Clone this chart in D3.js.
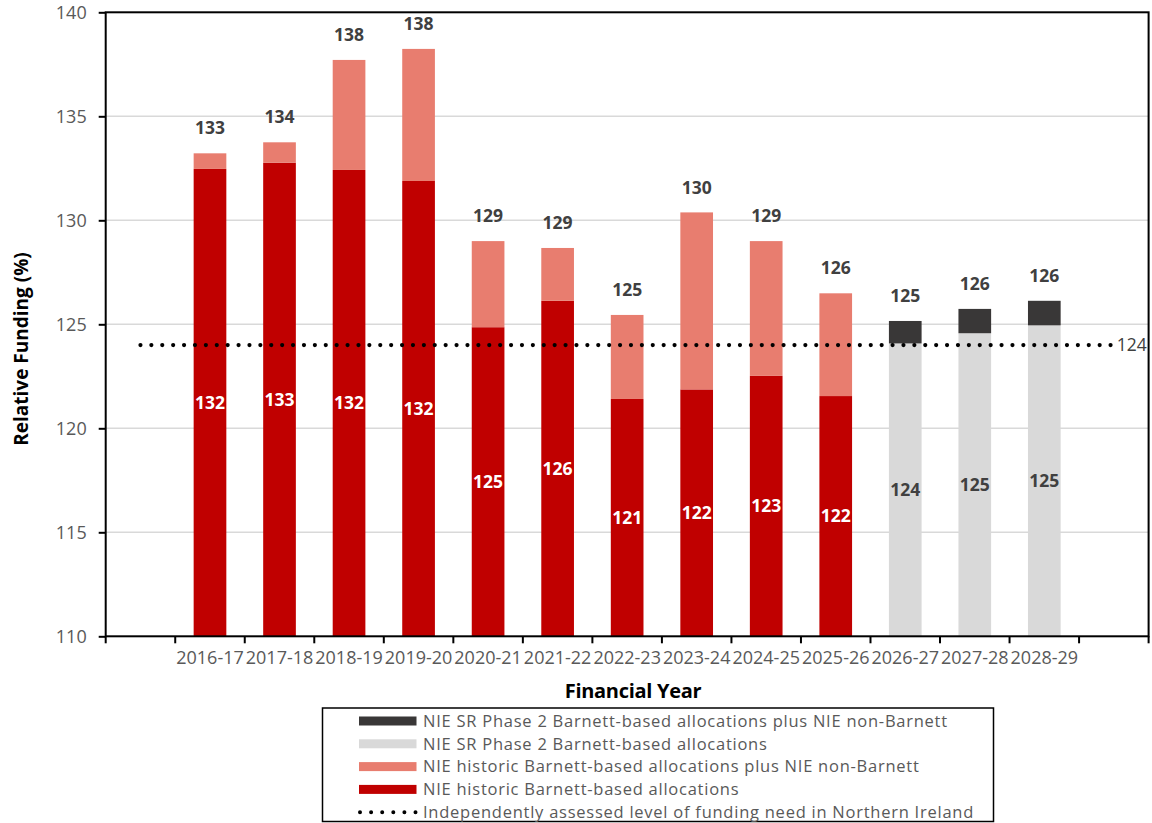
<!DOCTYPE html>
<html>
<head>
<meta charset="utf-8">
<script src="https://cdn.jsdelivr.net/npm/d3@7"></script>
<style>
  html, body { margin: 0; padding: 0; background: #fff; }
  svg { display: block; font-family: "Open Sans", "Liberation Sans", Arial, sans-serif; }
</style>
</head>
<body>
<svg id="chart" width="1152" height="823"></svg>
<script>
// Financial years shown on the x axis
const years = ["2016-17", "2017-18", "2018-19", "2019-20", "2020-21", "2021-22", "2022-23",
               "2023-24", "2024-25", "2025-26", "2026-27", "2027-28", "2028-29"];

// Historic Barnett-based allocations (null where not applicable)
const historicBarnett = [132.47, 132.77, 132.42, 131.89, 124.86, 126.13, 121.41,
                         121.87, 122.52, 121.55, null, null, null];
// Historic Barnett-based plus non-Barnett (total height)
const historicTotal = [133.22, 133.75, 137.71, 138.24, 129.0, 128.67, 125.45,
                       130.38, 129.0, 126.49, null, null, null];
// SR Phase 2 Barnett-based allocations
const srBarnett = [null, null, null, null, null, null, null, null, null, null, 124.08, 124.57, 124.95];
// SR Phase 2 Barnett-based plus non-Barnett (total height)
const srTotal = [null, null, null, null, null, null, null, null, null, null, 125.16, 125.74, 126.13];

// Independently assessed level of funding need
const fundingNeed = 124;

const yTicks = [110, 115, 120, 125, 130, 135, 140];

const legendLabels = [
  "NIE SR Phase 2 Barnett-based allocations plus NIE non-Barnett",
  "NIE SR Phase 2 Barnett-based allocations",
  "NIE historic Barnett-based allocations plus NIE non-Barnett",
  "NIE historic Barnett-based allocations",
  "Independently assessed level of funding need in Northern Ireland"
];

const colors = {
  srTop: "#393737",
  srBase: "#D9D9D9",
  histTop: "#E87D6F",
  histBase: "#C00000"
};

const svg = d3.select("#chart");
const plotLeft = 105.7, plotRight = 1148.6, plotTop = 12.3, plotBottom = 636.3;

// One empty slot either side of the years
const slots = ["__start", ...years, "__end"];
const x = d3.scaleBand().domain(slots).range([plotLeft, plotRight]).padding(0);
const step = x.step();
const barW = step * 0.47;
const cx = d => x(d) + step / 2;

const y = d3.scaleLinear().domain([110, 140]).range([plotBottom, plotTop]);

// Gridlines
svg.append("g")
  .selectAll("line")
  .data(yTicks.filter(t => t > 110 && t < 140))
  .join("line")
  .attr("x1", plotLeft).attr("x2", plotRight)
  .attr("y1", d => y(d)).attr("y2", d => y(d))
  .attr("stroke", "#D9D9D9").attr("stroke-width", 1.5);

// Stacked segments for each year
const segs = [];
years.forEach((yr, i) => {
  if (historicBarnett[i] != null) {
    segs.push({ yr, y0: 110, y1: historicBarnett[i], fill: colors.histBase });
    segs.push({ yr, y0: historicBarnett[i], y1: historicTotal[i], fill: colors.histTop });
  }
  if (srBarnett[i] != null) {
    segs.push({ yr, y0: 110, y1: srBarnett[i], fill: colors.srBase });
    segs.push({ yr, y0: srBarnett[i], y1: srTotal[i], fill: colors.srTop });
  }
});

svg.append("g")
  .selectAll("rect")
  .data(segs)
  .join("rect")
  .attr("x", d => cx(d.yr) - barW / 2)
  .attr("width", barW)
  .attr("y", d => y(d.y1))
  .attr("height", d => y(d.y0) - y(d.y1))
  .attr("fill", d => d.fill);

// Funding need dotted line
svg.append("line")
  .attr("x1", cx("__start")).attr("x2", cx("__end"))
  .attr("y1", y(fundingNeed)).attr("y2", y(fundingNeed))
  .attr("stroke", "#000").attr("stroke-width", 4.2)
  .attr("stroke-linecap", "round")
  .attr("stroke-dasharray", "0,10.9");

svg.append("text")
  .attr("x", cx("__end") + 3).attr("y", y(fundingNeed))
  .attr("dy", "0.35em")
  .attr("font-size", 17.5).attr("fill", "#404040")
  .text(d3.format(".0f")(fundingNeed));

const fmt = v => Math.round(v).toString();

// Inner labels (base segment value)
const inner = [];
years.forEach((yr, i) => {
  if (historicBarnett[i] != null) inner.push({ yr, v: historicBarnett[i], color: "#fff" });
  if (srBarnett[i] != null) inner.push({ yr, v: srBarnett[i], color: "#404040" });
});
svg.append("g")
  .selectAll("text")
  .data(inner)
  .join("text")
  .attr("x", d => cx(d.yr))
  .attr("y", d => (y(d.v) + y(110)) / 2)
  .attr("dy", "0.35em")
  .attr("text-anchor", "middle")
  .attr("font-size", 17.5).attr("font-weight", 700)
  .attr("fill", d => d.color)
  .text(d => fmt(d.v));

// Total labels above bars
const totals = years.map((yr, i) => ({ yr, v: historicTotal[i] != null ? historicTotal[i] : srTotal[i] }));
svg.append("g")
  .selectAll("text")
  .data(totals)
  .join("text")
  .attr("x", d => cx(d.yr))
  .attr("y", d => y(d.v) - 25)
  .attr("dy", "0.35em")
  .attr("text-anchor", "middle")
  .attr("font-size", 17.5).attr("font-weight", 700)
  .attr("fill", "#404040")
  .text(d => fmt(d.v));

// Y axis
const yAxis = svg.append("g")
  .attr("transform", `translate(${plotLeft},0)`)
  .call(d3.axisLeft(y).tickValues(yTicks).tickSize(7).tickPadding(12));
yAxis.select(".domain").remove();
yAxis.selectAll(".tick line").attr("stroke", "#000").attr("stroke-width", 2);
yAxis.selectAll(".tick text").attr("font-size", 18).attr("fill", "#595959")
  .attr("font-family", "\"Open Sans\", sans-serif");

// X axis labels
const xAxis = svg.append("g")
  .attr("transform", `translate(0,${plotBottom})`)
  .call(d3.axisBottom(x).tickValues(years).tickSize(0).tickPadding(15));
xAxis.select(".domain").remove();
xAxis.selectAll(".tick text").attr("font-size", 18).attr("fill", "#595959")
  .attr("font-family", "\"Open Sans\", sans-serif");

// X ticks at slot boundaries
const edges = slots.map(s => x(s)).concat([plotRight]);
svg.append("g")
  .selectAll("line")
  .data(edges)
  .join("line")
  .attr("x1", d => d).attr("x2", d => d)
  .attr("y1", plotBottom).attr("y2", plotBottom + 7)
  .attr("stroke", "#000").attr("stroke-width", 2);

// Plot frame
svg.append("rect")
  .attr("x", plotLeft).attr("y", plotTop)
  .attr("width", plotRight - plotLeft).attr("height", plotBottom - plotTop)
  .attr("fill", "none").attr("stroke", "#000").attr("stroke-width", 2);

// Axis titles
svg.append("text")
  .attr("transform", "translate(21,349) rotate(-90)")
  .attr("text-anchor", "middle").attr("dy", "0.35em")
  .attr("font-size", 19).attr("font-weight", 700).attr("fill", "#000")
  .text("Relative Funding (%)");

svg.append("text")
  .attr("x", 633).attr("y", 691).attr("dy", "0.35em")
  .attr("text-anchor", "middle")
  .attr("font-size", 20).attr("font-weight", 700).attr("fill", "#000")
  .attr("letter-spacing", -0.3)
  .text("Financial Year");

// Legend
const lg = svg.append("g");
lg.append("rect")
  .attr("x", 322.5).attr("y", 708).attr("width", 671).attr("height", 113.5)
  .attr("fill", "#fff").attr("stroke", "#000").attr("stroke-width", 1.5);

const legendSwatches = [colors.srTop, colors.srBase, colors.histTop, colors.histBase, null];
const rowY = i => 721 + i * 22.8;
legendLabels.forEach((lab, i) => {
  if (legendSwatches[i]) {
    lg.append("rect")
      .attr("x", 359).attr("y", rowY(i) - 4.5).attr("width", 57.5).attr("height", 9)
      .attr("fill", legendSwatches[i]);
  } else {
    lg.append("line")
      .attr("x1", 360).attr("x2", 416)
      .attr("y1", rowY(i)).attr("y2", rowY(i))
      .attr("stroke", "#000").attr("stroke-width", 4)
      .attr("stroke-linecap", "round").attr("stroke-dasharray", "0,11.1");
  }
  lg.append("text")
    .attr("x", 423).attr("y", rowY(i)).attr("dy", "0.35em")
    .attr("font-size", 16.5).attr("fill", "#595959")
    .attr("letter-spacing", 0.75)
    .text(lab);
});
</script>
</body>
</html>
